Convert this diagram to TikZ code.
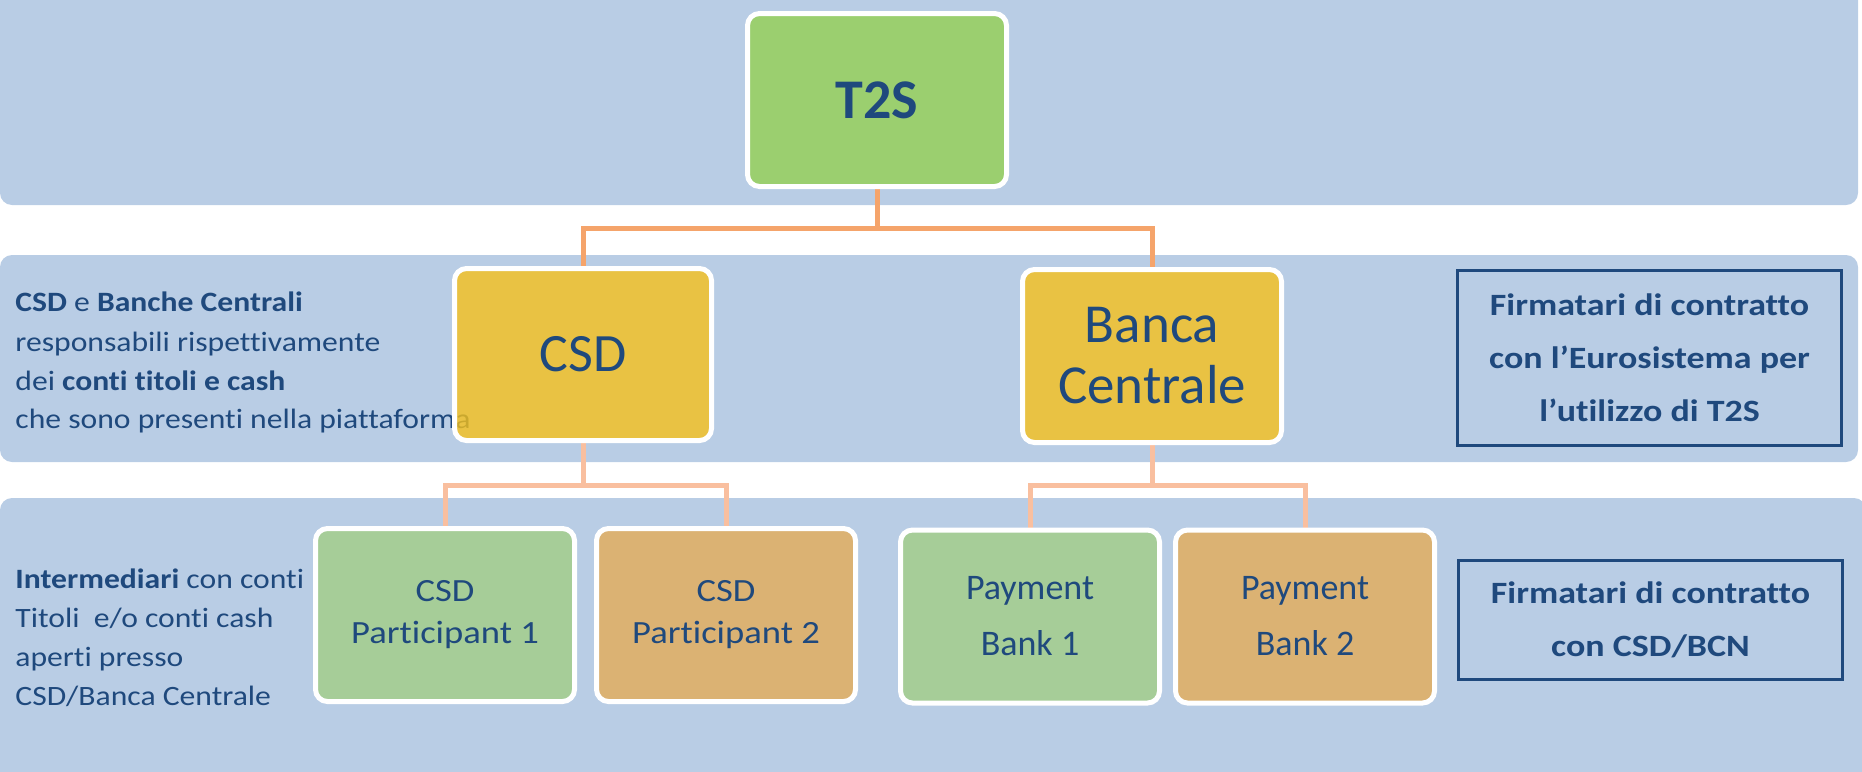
\documentclass[tikz,border=0pt]{standalone}
\usepackage{fontspec}
\setmainfont[Ligatures=NoCommon]{Carlito}
\newfontfamily\widefont[Ligatures=NoCommon,FakeStretch=1.13]{Carlito}
\newfontfamily\boldwide[Ligatures=NoCommon,FakeStretch=1.16]{Carlito}
\pgfdeclarelayer{bandlayer}
\pgfdeclarelayer{linelayer}
\pgfsetlayers{bandlayer,linelayer,main}
\definecolor{bandblue}{HTML}{B9CDE5}
\definecolor{tsgreen}{HTML}{9BCF6F}
\definecolor{yelbox}{HTML}{F5C01B}
\definecolor{lgreen}{HTML}{A6CD98}
\definecolor{tanbox}{HTML}{DBB273}
\definecolor{tblue}{HTML}{1F497D}
\definecolor{conA}{HTML}{F5A46B}
\definecolor{conB}{HTML}{F9BF9F}
\begin{document}
\begin{tikzpicture}[x=0.5pt,y=-0.5pt,
  boxnode/.style={rectangle, rounded corners=6pt, draw=white, line width=2.5pt,
    inner sep=0pt, outer sep=0pt, text=tblue, align=center,
    minimum width=129.5pt, minimum height=86.5pt},
  framebox/.style={rectangle, draw=tblue, line width=1.5pt, inner sep=0pt,
    text=tblue, align=center, minimum width=192pt,
    font=\boldwide\bfseries\fontsize{15.5}{26.5}\selectfont},
  lefttext/.style={anchor=base west, inner sep=0pt, text=tblue,
    font=\widefont\fontsize{14}{17}\selectfont},
  linkA/.style={draw=conA, line width=2.5pt},
  linkB/.style={draw=conB, line width=2.5pt}]
\useasboundingbox (0,0) rectangle (1862,771);
\begin{pgfonlayer}{bandlayer}
  \clip (0,0) rectangle (1862,771);
  \fill[bandblue, rounded corners=6pt] (0,-20) rectangle (1858,205);
  \fill[bandblue, rounded corners=6pt] (0,255) rectangle (1858,462);
  \fill[bandblue, rounded corners=6pt] (0,498) rectangle (1866,800);
\end{pgfonlayer}

% left texts
\node[lefttext] (la1) at (15,311) {\textbf{CSD} e \textbf{Banche Centrali}};
\node[lefttext] (la2) at (15,351) {responsabili rispettivamente};
\node[lefttext] (la3) at (15,390) {dei \textbf{conti titoli e cash}};
\node[lefttext] (la4) at (15,428) {che sono presenti nella piattaforma};
\node[lefttext] (lb1) at (15,588) {\textbf{Intermediari} con conti};
\node[lefttext] (lb2) at (15,627) {Titoli\ \ e/o conti cash};
\node[lefttext] (lb3) at (15,666) {aperti presso};
\node[lefttext] (lb4) at (15,705) {CSD/Banca Centrale};

% boxes
\node[boxnode, fill=tsgreen, font=\bfseries\fontsize{28}{34}\selectfont] (T2S) at (877,100) {T2S};
\node[boxnode, fill=yelbox, fill opacity=0.8, text opacity=1, draw opacity=1,
  minimum width=128.5pt, minimum height=86pt,
  font=\fontsize{27}{33}\selectfont] (CSD) at (583,354.5) {CSD};
\node[boxnode, fill=yelbox, fill opacity=0.8, text opacity=1, draw opacity=1,
  font=\fontsize{27.5}{30.5}\selectfont] (BC) at (1152,356) {Banca\\Centrale};
\node[boxnode, fill=lgreen, font=\widefont\fontsize{16.2}{21}\selectfont] (P1) at (445,615) {CSD\\Participant 1};
\node[boxnode, fill=tanbox, font=\widefont\fontsize{16.2}{21}\selectfont] (P2) at (726,615) {CSD\\Participant 2};
\node[boxnode, fill=lgreen, font=\fontsize{18}{28}\selectfont] (B1) at (1030,616.5) {Payment\\Bank 1};
\node[boxnode, fill=tanbox, font=\fontsize{18}{28}\selectfont] (B2) at (1305,616.5) {Payment\\Bank 2};

\node[framebox, minimum height=87.5pt] (R1) at (1649.5,358)
  {Firmatari di contratto\\con l’Eurosistema per\hspace*{5pt}\\l’utilizzo di T2S};
\node[framebox, minimum height=59.5pt] (R2) at (1650.5,620)
  {Firmatari di contratto\\con CSD/BCN};

% connectors
\coordinate (j1) at (877,228);
\coordinate (j2) at (583,485);
\coordinate (j3) at (1152,485);
\begin{pgfonlayer}{linelayer}
  \draw[linkA] (T2S.south) -- (j1);
  \draw[linkA] (CSD.north) |- (j1) -| (BC.north);
  \draw[linkB] (CSD.south) -- (j2);
  \draw[linkB] (P1.north) |- (j2) -| (P2.north);
  \draw[linkB] (BC.south) -- (j3);
  \draw[linkB] (B1.north) |- (j3) -| (B2.north);
\end{pgfonlayer}
\end{tikzpicture}
\end{document}
